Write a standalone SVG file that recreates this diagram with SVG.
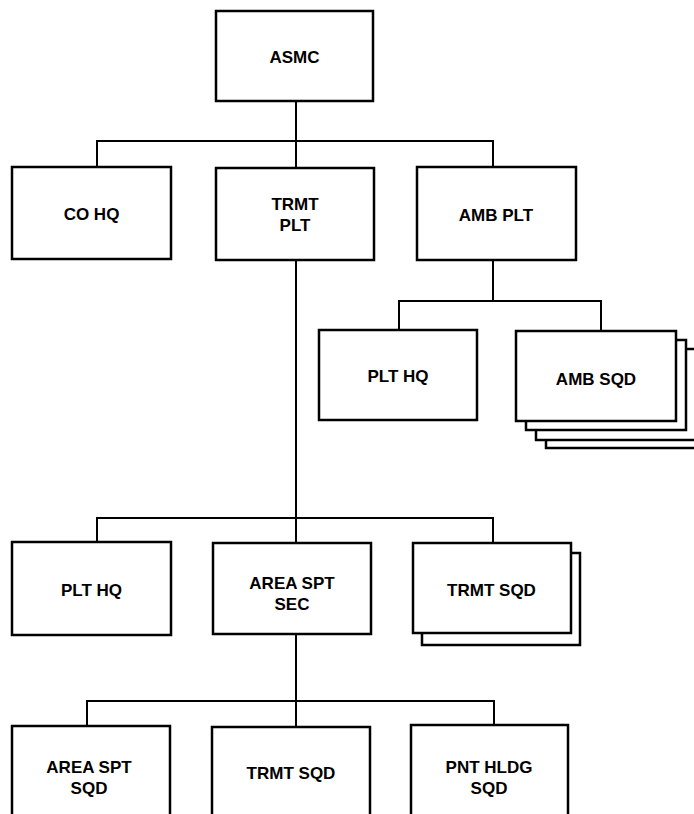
<svg xmlns="http://www.w3.org/2000/svg" width="694" height="814" viewBox="0 0 694 814">
<style>
.box{fill:#fff;stroke:#000;stroke-width:2.5}
.ln{fill:none;stroke:#000;stroke-width:2;stroke-linecap:square}
text{font-family:"Liberation Sans",Arial,sans-serif;font-weight:bold;font-size:17px;text-anchor:middle;fill:#000}
</style>
<rect width="694" height="814" fill="#fff"/>
<g id="connectors">
<path class="ln" d="M296,101V141M97,141H493M97,141V167M296,141V168M493,141V167"/>
<path class="ln" d="M296,260V518"/>
<path class="ln" d="M493,260V301M399,301H601M399,301V330M601,301V331"/>
<path class="ln" d="M97,518H493M97,518V542M296,518V543M493,518V543"/>
<path class="ln" d="M296,634V701M87,701H494M87,701V726M296,701V727M494,701V725"/>
</g>
<g id="asmc"><rect class="box" x="216" y="11" width="157" height="90"/><text x="294.5" y="63">ASMC</text></g>
<g id="co-hq"><rect class="box" x="12" y="167" width="159" height="92"/><text x="91.5" y="220">CO HQ</text></g>
<g id="trmt-plt"><rect class="box" x="216" y="168" width="158" height="92"/><text x="295" y="209.5">TRMT</text><text x="295" y="230.5">PLT</text></g>
<g id="amb-plt"><rect class="box" x="417" y="167" width="159" height="93"/><text x="496" y="221">AMB PLT</text></g>
<g id="plt-hq-amb"><rect class="box" x="319" y="330" width="158" height="90"/><text x="398" y="382">PLT HQ</text></g>
<g id="amb-sqd">
<rect class="box" x="546" y="357" width="160" height="91"/>
<rect class="box" x="536" y="349" width="160" height="91"/>
<rect class="box" x="526" y="340" width="160" height="90"/>
<rect class="box" x="516" y="331" width="160" height="90"/>
<text x="596" y="385">AMB SQD</text>
</g>
<g id="plt-hq-trmt"><rect class="box" x="12" y="542" width="159" height="93"/><text x="91.5" y="596">PLT HQ</text></g>
<g id="area-spt-sec"><rect class="box" x="213" y="543" width="158" height="91"/><text x="292" y="589">AREA SPT</text><text x="292" y="609.5">SEC</text></g>
<g id="trmt-sqd-stack">
<rect class="box" x="422" y="553" width="158" height="92"/>
<rect class="box" x="413" y="543" width="158" height="90"/>
<text x="491.5" y="596">TRMT SQD</text>
</g>
<g id="area-spt-sqd"><rect class="box" x="12" y="726" width="158" height="96"/><text x="89" y="773">AREA SPT</text><text x="89" y="793.5">SQD</text></g>
<g id="trmt-sqd"><rect class="box" x="212" y="727" width="158" height="96"/><text x="291" y="779">TRMT SQD</text></g>
<g id="pnt-hldg-sqd"><rect class="box" x="411" y="725" width="157" height="96"/><text x="489" y="773">PNT HLDG</text><text x="489" y="793.5">SQD</text></g>
</svg>
